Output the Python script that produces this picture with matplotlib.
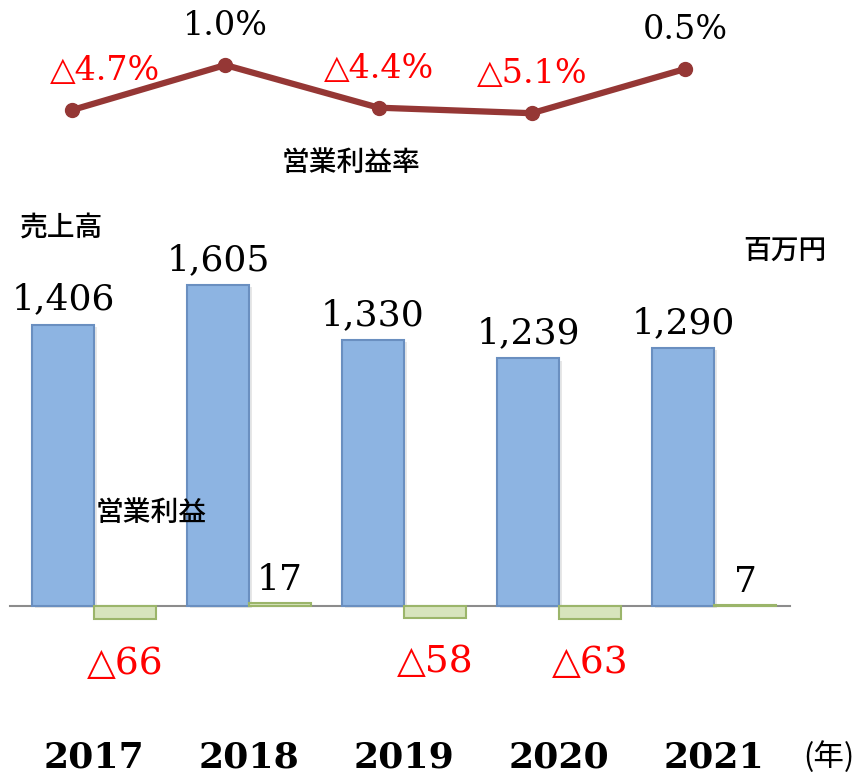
import numpy as np
import matplotlib
matplotlib.use('Agg')
import matplotlib.pyplot as plt

plt.rcParams['font.family'] = ['DejaVu Serif', 'DejaVu Sans', 'Noto Sans CJK JP']

# data
years = ['2017', '2018', '2019', '2020', '2021']
sales = [1406, 1605, 1330, 1239, 1290]        # 売上高 (百万円)
profit = [-66, 17, -58, -63, 7]               # 営業利益 (百万円)
margin = [-4.7, 1.0, -4.4, -5.1, 0.5]         # 営業利益率 (%)


def fmt_num(v):
    return '△' + format(-v, ',') if v < 0 else format(v, ',')


def fmt_pct(v):
    return '△' + f'{-v:.1f}%' if v < 0 else f'{v:.1f}%'


jp = 'Noto Sans CJK JP'

fig = plt.figure(figsize=(8.59, 7.8), dpi=100)

# bars
ax = fig.add_axes([0, 0, 1, 1])
ax.set_xlim(-0.606, 4.935)
ax.set_ylim(-870, 3030)
ax.axis('off')

x = np.arange(len(years))
w = 0.4
# soft shadow under the bars
ax.bar(x - w / 2 + 0.02, sales, width=w, bottom=-12, color='#BBBBBB',
       alpha=0.35, zorder=1)
ax.bar(x - w / 2, sales, width=w, color='#8DB4E2', edgecolor='#6A8FC0',
       linewidth=1.5, zorder=2)
ax.bar(x + w / 2, profit, width=w, color='#D7E4BD', edgecolor='#9BB56A',
       linewidth=1.5, zorder=2)
ax.axhline(0, xmin=0.012, xmax=0.92, color='#8C8C8C', lw=1.5, zorder=1.5)

for xi, v in zip(x, sales):
    ax.annotate(fmt_num(v), (xi - w / 2, v), xytext=(0, 11),
                textcoords='offset points', ha='center', va='baseline',
                fontsize=26)

for xi, v in zip(x, profit):
    if v >= 0:
        ax.annotate(fmt_num(v), (xi + w / 2, v), xytext=(0, 9),
                    textcoords='offset points', ha='center', va='baseline',
                    fontsize=26)
    else:
        ax.annotate(fmt_num(v), (xi + w / 2, v), xytext=(0, -19),
                    textcoords='offset points', ha='center', va='top',
                    fontsize=27, color='red')

for xi, yr in zip(x, years):
    ax.text(xi, -755, yr, ha='center', va='center', fontsize=26,
            fontweight='bold')

# margin line
ax2 = fig.add_axes([0, 0, 1, 1], facecolor='none')
ax2.set_xlim(-0.470, 5.135)
ax2.set_ylim(-89.5, 9.23)
ax2.axis('off')
ax2.plot(x, margin, color='#953735', lw=4.5, marker='o', ms=10,
         solid_capstyle='round')

dx = [24, 0, 0, 0, 0]
for xi, v, d in zip(x, margin, dx):
    ax2.annotate(fmt_pct(v), (xi, v), xytext=(d, 28),
                 textcoords='offset points', ha='center', va='center',
                 fontsize=24, color='red' if v < 0 else 'black')

# titles / units
fig.text(351 / 859, 1 - 162 / 780, '営業利益率', family=jp, fontsize=20,
         fontweight='medium', ha='center', va='center')
fig.text(62 / 859, 1 - 227 / 780, '売上高', family=jp, fontsize=20,
         fontweight='medium', ha='center', va='center')
fig.text(785 / 859, 1 - 250 / 780, '百万円', family=jp, fontsize=20,
         fontweight='medium', ha='center', va='center')
fig.text(151 / 859, 1 - 512 / 780, '営業利益', family=jp, fontsize=20,
         fontweight='medium', ha='center', va='center')
fig.text(829 / 859, 1 - 757 / 780, '(年)', family=jp, fontsize=22,
         ha='center', va='center')

fig.savefig('out.png', dpi=100)
